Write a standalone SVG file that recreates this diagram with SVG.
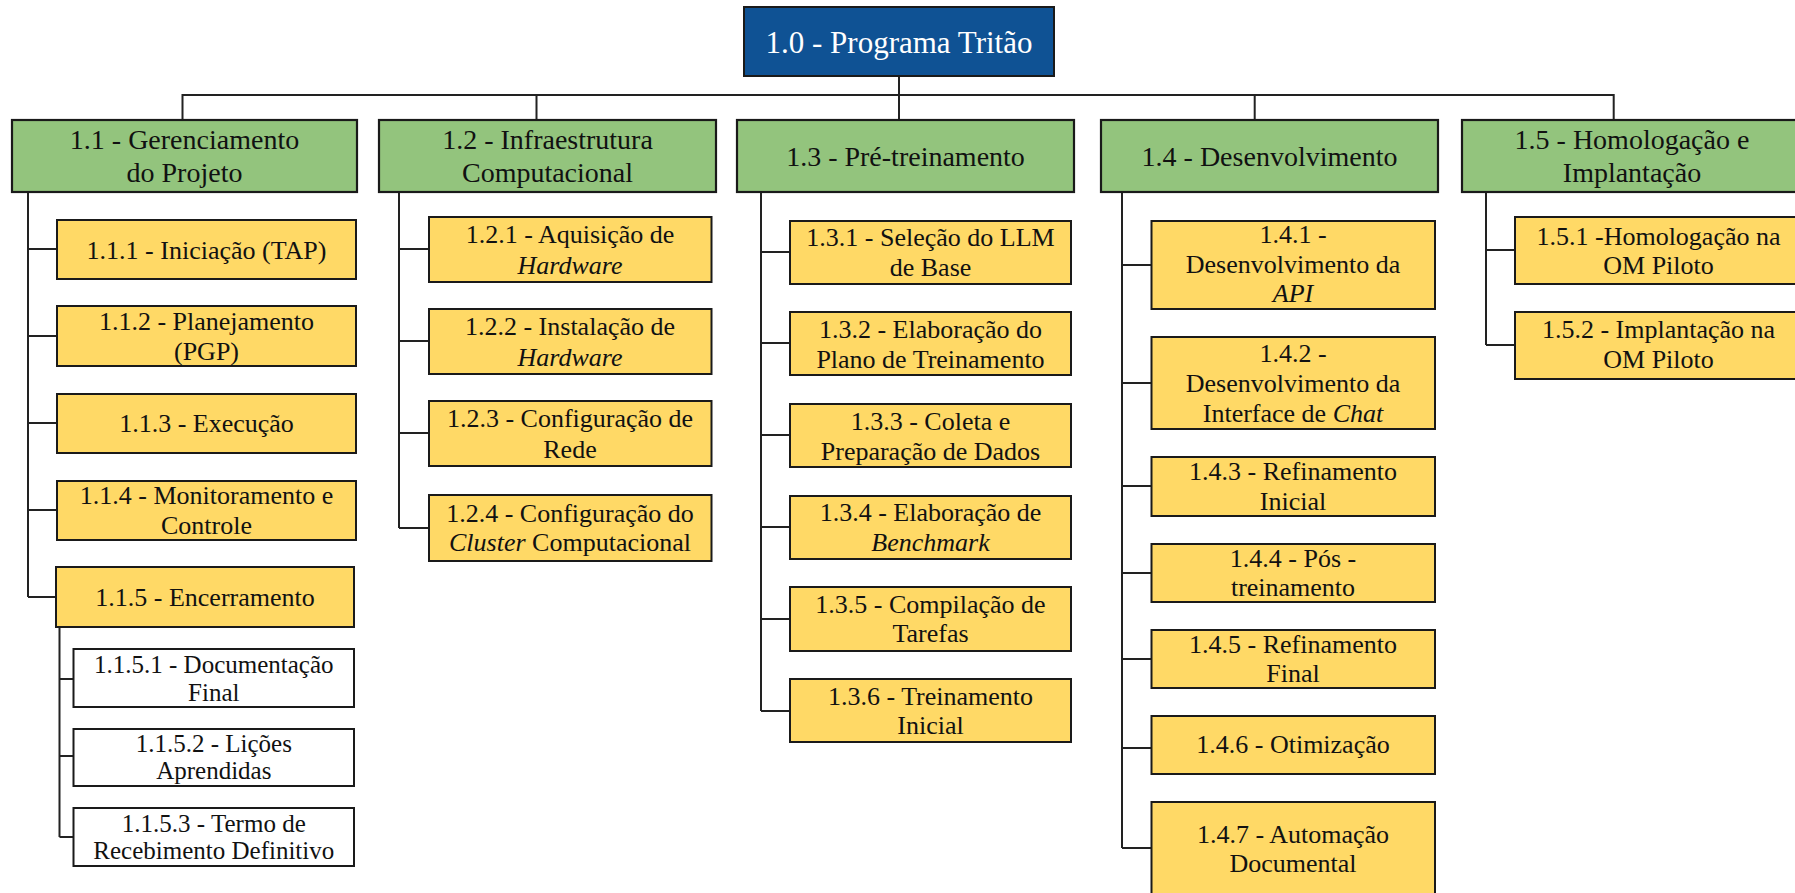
<svg xmlns="http://www.w3.org/2000/svg" width="1795" height="893" viewBox="0 0 1795 893">
<style>
text{font-family:"Liberation Serif","Times New Roman",serif;fill:#111;text-anchor:middle}
.top rect{fill:#0F5294;stroke:#1a1a1a;stroke-width:2}
.top text{fill:#fff;font-size:31px}
.g rect{fill:#93C47D;stroke:#1a1a1a;stroke-width:2.2}
.g text{font-size:28px}
.y rect{fill:#FFD966;stroke:#1a1a1a;stroke-width:2}
.y text{font-size:26px}
.w rect{fill:#fff;stroke:#1a1a1a;stroke-width:2}
.w text{font-size:25px}
.i{font-style:italic}
#connectors path{fill:none;stroke:#222;stroke-width:2}
</style>
<rect width="1795" height="893" fill="#fff"/>
<g id="connectors">
<path d="M899,76V120 M182.5,120V95H1613.7V120 M536.5,95V120 M1254.7,95V120"/>
<path d="M28,192V597 M28,249H57 M28,336H57 M28,423H57 M28,510H57 M28,597H56"/>
<path d="M59.5,627V837 M59.5,679H73.5 M59.5,756H73.5 M59.5,837H73.5"/>
<path d="M399,192V528 M399,249H429 M399,341H429 M399,433H429 M399,528H429"/>
<path d="M761,192V711 M761,252H790 M761,343H790 M761,435H790 M761,527H790 M761,619H790 M761,711H790"/>
<path d="M1122,192V848 M1122,265H1151.5 M1122,383H1151.5 M1122,486H1151.5 M1122,573H1151.5 M1122,659H1151.5 M1122,748H1151.5 M1122,848H1151.5"/>
<path d="M1486,192V345 M1486,250H1515 M1486,345H1515"/>
</g>
<g id="n1_0" class="top"><rect x="744" y="7" width="310" height="69"/><text x="899" y="53">1.0 - Programa Tritão</text></g>
<g id="n1_1" class="g"><rect x="12" y="120" width="345" height="72"/><text x="184.5" y="149">1.1 - Gerenciamento</text><text x="184.5" y="182">do Projeto</text></g>
<g id="n1_2" class="g"><rect x="379" y="120" width="337" height="72"/><text x="547.5" y="149">1.2 - Infraestrutura</text><text x="547.5" y="182">Computacional</text></g>
<g id="n1_3" class="g"><rect x="737" y="120" width="337" height="72"/><text x="905.5" y="166">1.3 - Pré-treinamento</text></g>
<g id="n1_4" class="g"><rect x="1101" y="120" width="337" height="72"/><text x="1269.5" y="166">1.4 - Desenvolvimento</text></g>
<g id="n1_5" class="g"><rect x="1462" y="120" width="345" height="72"/><text x="1632" y="149">1.5 - Homologação e</text><text x="1632" y="182">Implantação</text></g>
<g id="n1_1_1" class="y"><rect x="57" y="220" width="299" height="59"/><text x="206.5" y="259">1.1.1 - Iniciação (TAP)</text></g>
<g id="n1_1_2" class="y"><rect x="57" y="306" width="299" height="60"/><text x="206.5" y="330">1.1.2 - Planejamento</text><text x="206.5" y="360">(PGP)</text></g>
<g id="n1_1_3" class="y"><rect x="57" y="394" width="299" height="59"/><text x="206.5" y="432">1.1.3 - Execução</text></g>
<g id="n1_1_4" class="y"><rect x="57" y="481" width="299" height="59"/><text x="206.5" y="504">1.1.4 - Monitoramento e</text><text x="206.5" y="534">Controle</text></g>
<g id="n1_1_5" class="y"><rect x="56" y="567" width="298" height="60"/><text x="205" y="606">1.1.5 - Encerramento</text></g>
<g id="n1_1_5_1" class="w"><rect x="73.5" y="649" width="280.5" height="58"/><text x="213.8" y="673">1.1.5.1 - Documentação</text><text x="213.8" y="701">Final</text></g>
<g id="n1_1_5_2" class="w"><rect x="73.5" y="729" width="280.5" height="57"/><text x="213.8" y="752">1.1.5.2 - Lições</text><text x="213.8" y="779">Aprendidas</text></g>
<g id="n1_1_5_3" class="w"><rect x="73.5" y="808" width="280.5" height="58"/><text x="213.8" y="832">1.1.5.3 - Termo de</text><text x="213.8" y="859">Recebimento Definitivo</text></g>
<g id="n1_2_1" class="y"><rect x="429" y="217" width="282.5" height="65"/><text x="570" y="243">1.2.1 - Aquisição de</text><text x="570" y="274" class="i">Hardware</text></g>
<g id="n1_2_2" class="y"><rect x="429" y="309" width="282.5" height="65"/><text x="570" y="335">1.2.2 - Instalação de</text><text x="570" y="366" class="i">Hardware</text></g>
<g id="n1_2_3" class="y"><rect x="429" y="401" width="282.5" height="65"/><text x="570" y="427">1.2.3 - Configuração de</text><text x="570" y="458">Rede</text></g>
<g id="n1_2_4" class="y"><rect x="429" y="495" width="282.5" height="66"/><text x="570" y="522">1.2.4 - Configuração do</text><text x="570" y="551"><tspan class="i">Cluster</tspan> Computacional</text></g>
<g id="n1_3_1" class="y"><rect x="790" y="221" width="281" height="63"/><text x="930.5" y="246">1.3.1 - Seleção do LLM</text><text x="930.5" y="276">de Base</text></g>
<g id="n1_3_2" class="y"><rect x="790" y="312" width="281" height="63"/><text x="930.5" y="338">1.3.2 - Elaboração do</text><text x="930.5" y="368">Plano de Treinamento</text></g>
<g id="n1_3_3" class="y"><rect x="790" y="404" width="281" height="63"/><text x="930.5" y="430">1.3.3 - Coleta e</text><text x="930.5" y="460">Preparação de Dados</text></g>
<g id="n1_3_4" class="y"><rect x="790" y="496" width="281" height="63"/><text x="930.5" y="521">1.3.4 - Elaboração de</text><text x="930.5" y="551" class="i">Benchmark</text></g>
<g id="n1_3_5" class="y"><rect x="790" y="587" width="281" height="64"/><text x="930.5" y="613">1.3.5 - Compilação de</text><text x="930.5" y="642">Tarefas</text></g>
<g id="n1_3_6" class="y"><rect x="790" y="679" width="281" height="63"/><text x="930.5" y="705">1.3.6 - Treinamento</text><text x="930.5" y="734">Inicial</text></g>
<g id="n1_4_1" class="y"><rect x="1151.5" y="221" width="283.5" height="88"/><text x="1293" y="243">1.4.1 -</text><text x="1293" y="273">Desenvolvimento da</text><text x="1293" y="302" class="i">API</text></g>
<g id="n1_4_2" class="y"><rect x="1151.5" y="337" width="283.5" height="92"/><text x="1293" y="362">1.4.2 -</text><text x="1293" y="392">Desenvolvimento da</text><text x="1293" y="422">Interface de <tspan class="i">Chat</tspan></text></g>
<g id="n1_4_3" class="y"><rect x="1151.5" y="457" width="283.5" height="59"/><text x="1293" y="480">1.4.3 - Refinamento</text><text x="1293" y="510">Inicial</text></g>
<g id="n1_4_4" class="y"><rect x="1151.5" y="544" width="283.5" height="58"/><text x="1293" y="567">1.4.4 - Pós -</text><text x="1293" y="596">treinamento</text></g>
<g id="n1_4_5" class="y"><rect x="1151.5" y="630" width="283.5" height="58"/><text x="1293" y="653">1.4.5 - Refinamento</text><text x="1293" y="682">Final</text></g>
<g id="n1_4_6" class="y"><rect x="1151.5" y="716" width="283.5" height="58"/><text x="1293" y="753">1.4.6 - Otimização</text></g>
<g id="n1_4_7" class="y"><rect x="1151.5" y="802" width="283.5" height="100"/><text x="1293" y="843">1.4.7 - Automação</text><text x="1293" y="872">Documental</text></g>
<g id="n1_5_1" class="y"><rect x="1515" y="217" width="290" height="67"/><text x="1658.5" y="245">1.5.1 -Homologação na</text><text x="1658.5" y="274">OM Piloto</text></g>
<g id="n1_5_2" class="y"><rect x="1515" y="312" width="290" height="67"/><text x="1658.5" y="338">1.5.2 - Implantação na</text><text x="1658.5" y="368">OM Piloto</text></g>
</svg>
